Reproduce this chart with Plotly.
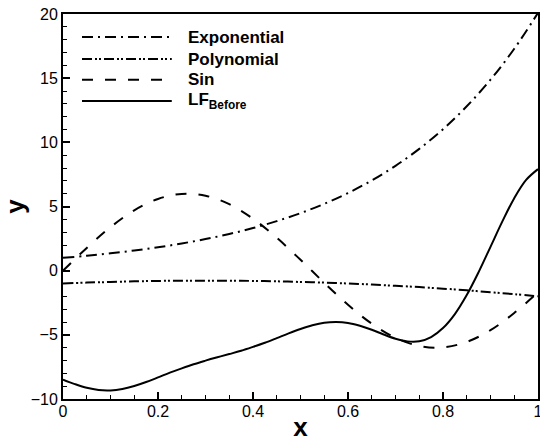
import plotly.graph_objects as go

x_vals = [0.00, 0.05, 0.10, 0.15, 0.20, 0.25, 0.30, 0.35, 0.40, 0.45, 0.50,
          0.55, 0.60, 0.65, 0.70, 0.75, 0.80, 0.85, 0.90, 0.95, 1.00]
exponential = [1.00, 1.16, 1.35, 1.57, 1.82, 2.12, 2.46, 2.86, 3.32, 3.86, 4.48,
               5.21, 6.05, 7.03, 8.17, 9.49, 11.02, 12.81, 14.88, 17.29, 20.09]
polynomial = [-1.00, -0.93, -0.88, -0.83, -0.80, -0.78, -0.78, -0.78, -0.80, -0.83, -0.88,
              -0.93, -1.00, -1.08, -1.18, -1.28, -1.40, -1.53, -1.68, -1.83, -2.00]
sin_vals = [0.00, 1.77, 3.39, 4.70, 5.59, 5.98, 5.84, 5.18, 4.05, 2.56, 0.85,
            -0.95, -2.66, -4.13, -5.23, -5.87, -5.98, -5.55, -4.64, -3.30, -1.68]

x_lf = [0.000, 0.025, 0.050, 0.075, 0.100, 0.125, 0.150, 0.175, 0.200, 0.225,
        0.250, 0.275, 0.300, 0.325, 0.350, 0.375, 0.400, 0.425, 0.450, 0.475,
        0.500, 0.525, 0.550, 0.575, 0.600, 0.625, 0.650, 0.675, 0.700, 0.725,
        0.750, 0.775, 0.800, 0.825, 0.850, 0.875, 0.900, 0.925, 0.950, 0.975, 1.000]
lf_before = [-8.49, -8.84, -9.13, -9.30, -9.33, -9.22, -8.99, -8.68, -8.32, -7.95,
             -7.61, -7.29, -7.01, -6.75, -6.50, -6.24, -5.94, -5.62, -5.26, -4.89,
             -4.55, -4.26, -4.06, -4.00, -4.07, -4.29, -4.60, -4.97, -5.30, -5.51,
             -5.50, -5.17, -4.47, -3.38, -1.90, -0.11, 1.86, 3.84, 5.65, 7.07, 7.91]

names = ["Exponential", "Polynomial", "Sin", "LF<sub>Before</sub>"]
series_x = [x_vals, x_vals, x_vals, x_lf]
series_y = [exponential, polynomial, sin_vals, lf_before]
dashes = ["11px,5px,2px,5px", "10px,3px,2px,2px,2px,3px", "11px,12px", "solid"]

x_ticks = [0, 0.2, 0.4, 0.6, 0.8, 1]
x_ticktext = ["0", "0.2", "0.4", "0.6", "0.8", "1"]
y_ticks = [-10, -5, 0, 5, 10, 15, 20]

FONT = "Liberation Sans, Arial, sans-serif"

fig = go.Figure()
for name, xs, ys, dash in zip(names, series_x, series_y, dashes):
    fig.add_trace(go.Scatter(x=xs, y=ys, mode="lines", name=name,
                             line=dict(color="black", width=2, dash=dash, shape="spline"),
                             showlegend=False))

# legend drawn as layout shapes + annotations (paper coordinates)
shapes = []
annotations = []
row_y = [0.940, 0.883, 0.829, 0.774]
for i, (name, dash) in enumerate(zip(names, dashes)):
    shapes.append(dict(type="line", xref="paper", yref="paper",
                       x0=0.040, x1=0.229, y0=row_y[i], y1=row_y[i],
                       line=dict(color="black", width=2, dash=dash)))
    label = "<b>" + name.replace("<sub>", "<sub><b>").replace("</sub>", "</b></sub>") + "</b>"
    annotations.append(dict(xref="paper", yref="paper", x=0.259, y=row_y[i],
                            xanchor="left", yanchor="middle", showarrow=False,
                            text=label,
                            font=dict(family=FONT, size=17, color="black")))

fig.update_layout(
    width=540, height=442,
    margin=dict(l=63, r=2, t=14, b=43),
    paper_bgcolor="white", plot_bgcolor="white",
    font=dict(family=FONT, color="black"),
    shapes=shapes, annotations=annotations,
    showlegend=False,
)
fig.update_xaxes(range=[0, 1], tickvals=x_ticks, ticktext=x_ticktext,
                 ticks="inside", ticklen=7, tickwidth=2, tickcolor="black",
                 minor=dict(dtick=0.05, ticks="inside", ticklen=4, tickwidth=1, tickcolor="black"),
                 showline=True, linewidth=2, linecolor="black", mirror=True,
                 showgrid=False, zeroline=False, automargin=False,
                 ticklabeloverflow="allow", ticklabelstandoff=-3,
                 tickfont=dict(family=FONT, size=16, color="black"),
                 title=dict(text="<b>x</b>", font=dict(family=FONT, size=26, color="black"), standoff=2))
fig.update_yaxes(range=[-10, 20], tickvals=y_ticks,
                 ticks="inside", ticklen=7, tickwidth=2, tickcolor="black",
                 minor=dict(dtick=1, ticks="inside", ticklen=4, tickwidth=1, tickcolor="black"),
                 showline=True, linewidth=2, linecolor="black", mirror=True,
                 showgrid=False, zeroline=False, automargin=False,
                 ticklabeloverflow="allow",
                 tickfont=dict(family=FONT, size=16, color="black"),
                 title=dict(text="<b>y</b>", font=dict(family=FONT, size=26, color="black"), standoff=2))

fig.write_html("out.html")
